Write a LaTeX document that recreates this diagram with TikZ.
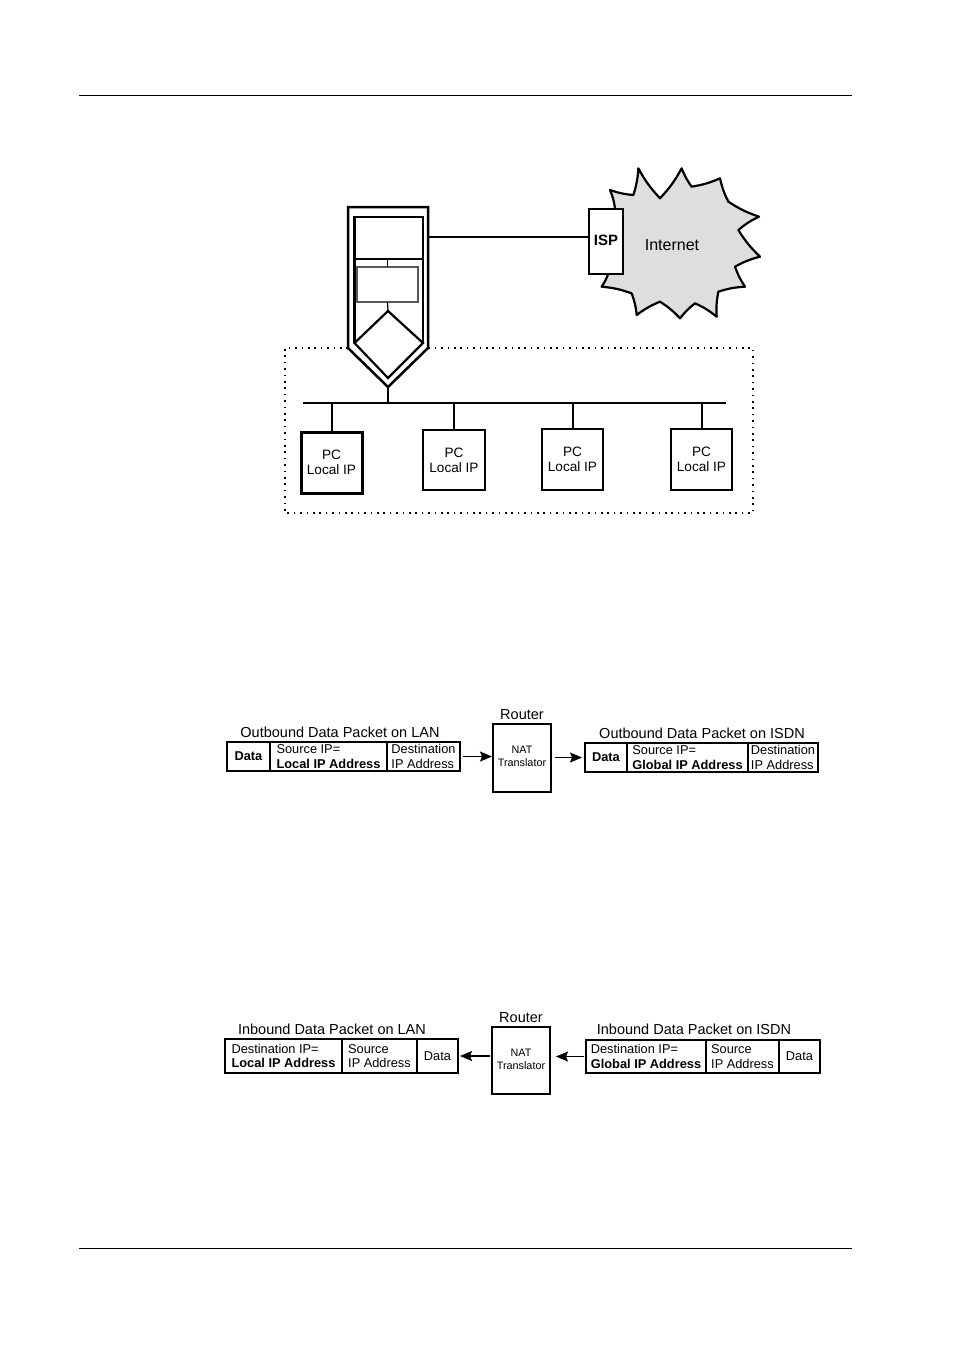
\documentclass[tikz,border=0pt]{standalone}
\usepackage{fontspec}
\setmainfont{Liberation Sans}
\usetikzlibrary{arrows.meta}
\newcommand{\pxbox}[7][]{% style, name, x1,y1,x2,y2, text
  \node[boxn,#1,minimum width={(#5-#3)*0.5pt},minimum height={(#6-#4)*0.5pt}] (#2) at ({(#3+#5)/2},{(#4+#6)/2}) {#7};}
\tikzset{
  boxn/.style={draw=black,line width=1pt,inner sep=0pt,outer sep=0pt,fill=white,align=left},
  thick box/.style={line width=1.25pt},
  pcbox/.style={line width=1.2pt,align=center,font=\fontsize{6.8}{7.6}\selectfont},
  cell/.style={line width=0.6pt,font=\fontsize{6.4}{7.2}\selectfont},
  title/.style={inner sep=0pt,font=\fontsize{7.25}{9}\selectfont},
  rule/.style={line width=0.5pt},
  wire/.style={line width=1pt},
  arrowline/.style={line width=0.6pt,-{Stealth[length=6pt,width=5pt,inset=1pt]}},
  natbox/.style={line width=0.6pt},
  nat/.style={inner sep=0pt,align=center,font=\fontsize{5.4}{6.4}\selectfont},
  dotline/.style={line width=0.7pt,dash pattern=on 0.8pt off 2.4pt},
  spike/.style={bend right=7},
}
\begin{document}
\begin{tikzpicture}[x=0.5pt,y=-0.5pt]
\useasboundingbox (0,0) rectangle (954,1351);
% page rules
\coordinate (t1) at (79,95); \coordinate (t2) at (852,95);
\coordinate (b1) at (79,1248); \coordinate (b2) at (852,1248);
\draw[rule] (t1) -- (t2);
\draw[rule] (b1) -- (b2);
% dotted LAN
\draw[dotline] (348,348) -- (285,348) -- (285,513) -- (753,513) -- (753,348) -- (428,348);
% cloud
\begin{scope}[shift={(270,160)},x=0.16667pt,y=-0.16667pt]
\draw[line width=1.1pt,fill=black!13,line join=round]
 (1020,90) to[spike] (1090,105) to[spike] (1105,25) to[spike] (1170,115)
 to[spike] (1235,25) to[spike] (1265,80) to[spike] (1350,55) to[spike] (1375,125)
 to[spike] (1467,170) to[spike] (1405,210) to[spike] (1470,290) to[spike] (1395,320)
 to[spike] (1425,380) to[spike] (1345,395) to[spike] (1340,470) to[spike] (1275,430)
 to[spike] (1230,475) to[spike] (1170,425) to[spike] (1100,465) to[spike] (1085,400)
 to[spike] (995,380) to[spike] (1015,340) -- (1035,145) to[spike] cycle;
\end{scope}
\node[inner sep=0pt,font=\fontsize{8}{9}\selectfont] (inet) at (672,245) {Internet};
\pxbox[thick box,align=center,font=\fontsize{7.5}{9}\selectfont\bfseries]{isp}{589}{209}{623}{274}{\raisebox{1pt}{ISP}}
% router
\coordinate (rNW) at (348,207); \coordinate (rNE) at (428,207);
\coordinate (rE) at (428,348); \coordinate (rW) at (348,348); \coordinate (rTip) at (388,387);
\fill[white] (rNW) -- (rNE) -- (rE) -- (rTip) -- (rW) -- cycle;
\draw[line width=1.25pt,line join=miter] (rNW) -- (rNE) -- (rE) -- (rTip) -- (rW) -- cycle;
\coordinate (iSW) at (354.5,343); \coordinate (iSE) at (423,343);
\pxbox[line width=1.4pt]{wan}{354.5}{217}{423}{259}{}
\draw[line width=1.25pt] (wan.south west) -- (iSW) (wan.south east) -- (iSE);
\pxbox[line width=0.6pt,draw=black!65]{nat0}{357}{267}{418}{302}{}
\coordinate (dT) at (388,311); \coordinate (dB) at (388,378);
\draw[line width=1.1pt,line join=miter] (dT) -- (iSE) -- (dB) -- (iSW) -- cycle;
\draw[line width=0.6pt] (wan.south -| nat0.north) -- (nat0.north);
\draw[line width=0.6pt] (nat0.south) -- (dT);
\coordinate (ispL) at (589,237);
\draw[wire] (rNE |- ispL) -- (ispL);
% bus and PCs
\coordinate (busL) at (303,403); \coordinate (busR) at (726,403);
\coordinate (busC) at (388,403);
\draw[wire] (busL) -- (busR);
\draw[wire] (rTip) -- (busC);
\pxbox[pcbox,line width=1.5pt]{pc1}{301}{432}{362}{493}{PC\\Local IP}
\pxbox[pcbox]{pc2}{423}{430}{485}{490}{PC\\Local IP}
\pxbox[pcbox]{pc3}{542}{429}{603}{490}{PC\\Local IP}
\pxbox[pcbox]{pc4}{671}{429}{732}{490}{PC\\Local IP}
\foreach \p in {pc1,pc2,pc3,pc4} \draw[wire] (\p.north) -- (\p.north |- busL);
% outbound
\node[title] (ot1) at (340,732) {Outbound Data Packet on LAN};
\pxbox[cell,align=center]{o1}{227}{742}{270}{771}{\textbf{Data}}
\pxbox[cell]{o2}{270}{742}{387}{771}{Source IP=\\\textbf{Local IP Address}}
\pxbox[cell]{o3}{387}{742}{460}{771}{Destination\\IP Address}
\pxbox[natbox]{or}{493}{724}{551}{792}{}
\node[title] (orl) at (522,715) {Router};
\node[nat] (ont) at (522,756) {NAT\\Translator};
\node[title] (ot2) at (702,733) {Outbound Data Packet on ISDN};
\pxbox[cell,align=center]{o4}{585}{743}{627}{772}{\textbf{Data}}
\pxbox[cell]{o5}{627}{743}{748}{772}{Source IP=\\\textbf{Global IP Address}}
\pxbox[cell]{o6}{748}{743}{818}{772}{Destination\\IP Address}
\draw[arrowline,shorten <=1.5pt,shorten >=0.5pt] (o3.east) -- (or.west |- o3.east);
\draw[arrowline,shorten <=2pt,shorten >=1.5pt] (or.east |- o4.west) -- (o4.west);
% inbound
\node[title] (it1) at (332,1029) {Inbound Data Packet on LAN};
\pxbox[cell]{i1}{225}{1039}{342}{1073}{Destination IP=\\\textbf{Local IP Address}}
\pxbox[cell]{i2}{342}{1039}{417}{1073}{Source\\IP Address}
\pxbox[cell,align=center]{i3}{417}{1039}{458}{1073}{Data}
\pxbox[natbox]{ir}{492}{1027}{550}{1094}{}
\node[title] (irl) at (521,1018) {Router};
\node[nat] (int) at (521,1059) {NAT\\Translator};
\node[title] (it2) at (694,1029) {Inbound Data Packet on ISDN};
\pxbox[cell]{i4}{586}{1040}{706}{1073}{Destination IP=\\\textbf{Global IP Address}}
\pxbox[cell]{i5}{706}{1040}{779}{1073}{Source\\IP Address}
\pxbox[cell,align=center]{i6}{779}{1040}{820}{1073}{Data}
\draw[arrowline,shorten <=1pt,shorten >=1pt] (ir.west |- i3.east) -- (i3.east);
\draw[arrowline,shorten <=1pt,shorten >=3pt] (i4.west) -- (ir.east |- i4.west);
\end{tikzpicture}
\end{document}
